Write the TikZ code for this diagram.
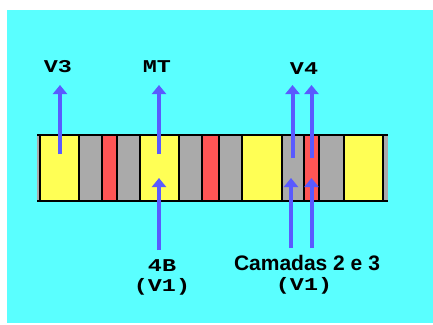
\documentclass[tikz,border=0pt]{standalone}
\usepackage{fontspec}
\usepackage{graphicx}
\newfontfamily\monob{Liberation Mono}
\newfontfamily\sansb{Liberation Sans}
\usetikzlibrary{arrows.meta}
\definecolor{cyanbg}{HTML}{5AFFFF}
\definecolor{stripeyellow}{HTML}{FFFF55}
\definecolor{stripegray}{HTML}{AAAAAA}
\definecolor{stripered}{HTML}{FF5555}
\definecolor{arrowblue}{HTML}{5A5AFF}
\tikzset{
  bluearrow/.style={draw=arrowblue, line width=4pt, -{Triangle[width=14pt,length=9pt]}},
  monolabel/.style={inner sep=0pt, font=\monob\bfseries\fontsize{18}{20}\selectfont},
  sanslabel/.style={inner sep=0pt, font=\sansb\bfseries\fontsize{21}{23}\selectfont},
  divider/.style={draw=black, line width=1.5pt}
}
\newcommand{\wide}[1]{\scalebox{1.3}[1]{#1}}
\begin{document}
\begin{tikzpicture}[x=1pt,y=-1pt]
\useasboundingbox (0,0) rectangle (433,324);
\fill[white] (0,0) rectangle (433,324);
\fill[cyanbg] (7,10) rectangle (433,323);
% stripes
\foreach \a/\b/\c in {37/40/stripegray, 40/79/stripeyellow, 79/102/stripegray, 102/117/stripered,
  117/140/stripegray, 140/179/stripeyellow, 179/202/stripegray, 202/219/stripered,
  219/242/stripegray, 242/282/stripeyellow, 282/304/stripegray, 304/319/stripered,
  319/344/stripegray, 344/383/stripeyellow, 383/388/stripegray}
  \fill[\c] (\a,135) rectangle (\b,201);
\foreach \x in {40,79,102,117,140,179,202,219,242,282,304,319,344,383}
  \draw[divider] (\x,135) -- (\x,201);
\draw[divider] (37,135) -- (388,135);
\draw[divider] (37,201) -- (388,201);
% labels
\node[monolabel] (v3) at (58,67) {\wide{V3}};
\node[monolabel] (mt) at (157,67) {\wide{MT}};
\node[monolabel] (v4) at (304,69) {\wide{V4}};
\node[monolabel] (fourb) at (162,266) {\wide{4B}};
\node[monolabel] (vone) at (162,287) {\wide{(V1)}};
\node[sanslabel] (cam) at (307,263) {Camadas 2 e 3};
\node[monolabel] (vonec) at (304,286) {\wide{(V1)}};
% arrow coordinates
\coordinate (v3s) at (60,154);   \coordinate (v3e) at (60,85);
\coordinate (mts) at (159,154);  \coordinate (mte) at (159,85);
\coordinate (fbs) at (159,250);  \coordinate (fbe) at (159,178);
\coordinate (v4as) at (292.5,158); \coordinate (v4ae) at (292.5,85);
\coordinate (v4bs) at (311.5,158); \coordinate (v4be) at (311.5,85);
\coordinate (cas) at (291,248);  \coordinate (cae) at (291,178);
\coordinate (cbs) at (311.5,248); \coordinate (cbe) at (311.5,178);
\draw[bluearrow] (v3s) -- (v3e);
\draw[bluearrow] (mts) -- (mte);
\draw[bluearrow] (fbs) -- (fbe);
\draw[bluearrow] (v4as) -- (v4ae);
\draw[bluearrow] (v4bs) -- (v4be);
\draw[bluearrow] (cas) -- (cae);
\draw[bluearrow] (cbs) -- (cbe);
\end{tikzpicture}
\end{document}
